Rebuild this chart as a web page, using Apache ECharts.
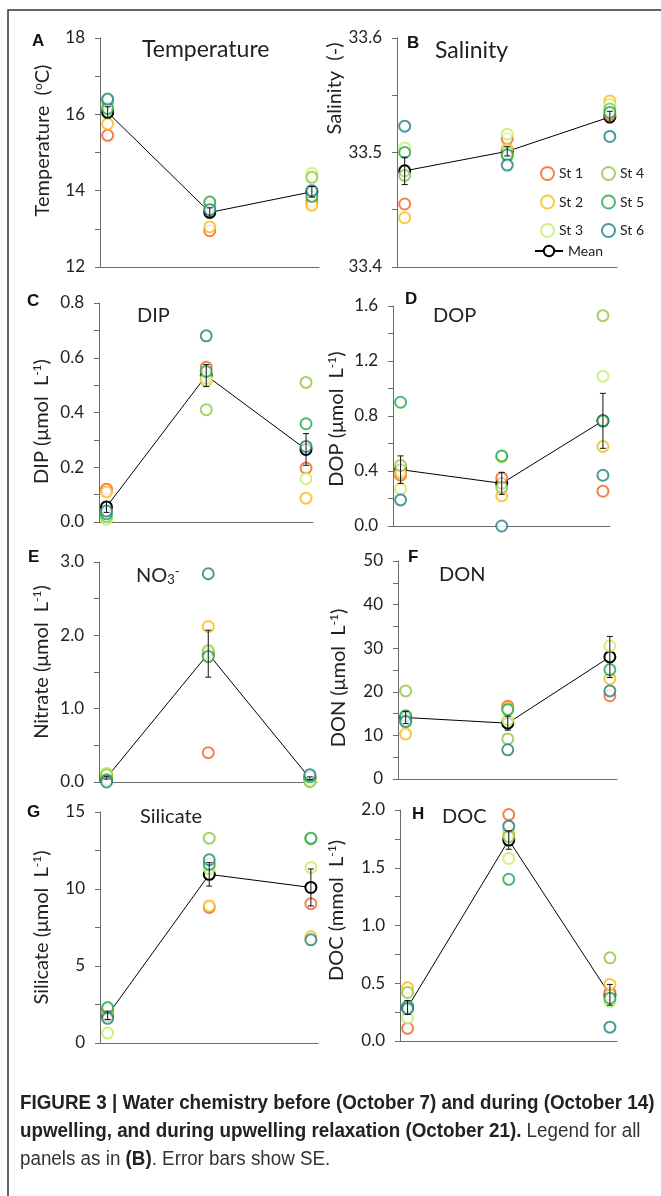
<!DOCTYPE html>
<html>
<head>
<meta charset="utf-8">
<script src="https://cdn.jsdelivr.net/npm/echarts@6/dist/echarts.min.js"></script>
<style>
  html, body { margin: 0; padding: 0; background: #fff; }
  #chart { width: 661px; height: 1196px; }
</style>
</head>
<body>
<div id="chart"></div>
<script>
// ---------------- DATA ----------------
const dates = ['7 Oct', '14 Oct', '21 Oct'];
const stations = ['St 1', 'St 2', 'St 3', 'St 4', 'St 5', 'St 6'];

// rows = stations St 1..St 6, columns = dates
const temperature = [
  [15.45, 12.95, 13.72],
  [15.75, 13.05, 13.62],
  [16.28, 13.55, 14.45],
  [16.35, 13.60, 14.35],
  [16.15, 13.70, 13.85],
  [16.40, 13.50, 14.00]
];
const temperatureMean = [16.05, 13.43, 13.97];
const temperatureSE = [0.15, 0.12, 0.14];

const salinity = [
  [33.455, 33.512, 33.533],
  [33.443, 33.503, 33.545],
  [33.504, 33.516, 33.542],
  [33.480, 33.497, 33.538],
  [33.500, 33.498, 33.535],
  [33.523, 33.489, 33.514]
];
const salinityMean = [33.484, 33.501, 33.531];
const salinitySE = [0.012, 0.004, 0.005];

const dip = [
  [0.12, 0.565, 0.197],
  [0.11, 0.515, 0.087],
  [0.01, 0.525, 0.158],
  [0.02, 0.41, 0.51],
  [0.03, 0.55, 0.359],
  [0.04, 0.68, 0.276]
];
const dipMean = [0.055, 0.535, 0.265];
const dipSE = [0.02, 0.04, 0.058];

const dop = [
  [0.37, 0.35, 0.253],
  [0.39, 0.22, 0.579],
  [0.27, 0.50, 1.09],
  [0.44, 0.28, 1.53],
  [0.90, 0.51, 0.765],
  [0.19, 0.00, 0.369]
];
const dopMean = [0.41, 0.31, 0.765];
const dopSE = [0.10, 0.08, 0.20];

const nitrate = [
  [0.05, 0.40, 0.06],
  [0.08, 2.12, 0.05],
  [0.12, 1.75, 0.00],
  [0.10, 1.79, 0.01],
  [0.03, 1.71, 0.07],
  [0.00, 2.84, 0.10]
];
const nitrateMean = [0.06, 1.75, 0.05];
const nitrateSE = [0.02, 0.32, 0.02];

const don = [
  [13.5, 16.7, 19.1],
  [10.3, 16.2, 23.0],
  [13.0, 13.5, 30.5],
  [20.2, 9.2, 50.2],
  [14.5, 15.9, 25.1],
  [13.2, 6.7, 20.2]
];
const donMean = [14.1, 12.8, 28.0];
const donSE = [1.4, 1.6, 4.7];

const silicate = [
  [2.1, 8.8, 9.05],
  [1.9, 8.9, 6.9],
  [0.65, 11.3, 11.4],
  [2.2, 13.3, 13.25],
  [2.3, 11.6, 13.3],
  [1.6, 11.9, 6.7]
];
const silicateMean = [1.8, 10.95, 10.1];
const silicateSE = [0.27, 0.76, 1.2];

const doc = [
  [0.11, 1.96, 0.42],
  [0.46, 1.80, 0.49],
  [0.20, 1.58, 0.34],
  [0.42, 1.77, 0.72],
  [0.30, 1.40, 0.37],
  [0.28, 1.86, 0.12]
];
const docMean = [0.29, 1.74, 0.40];
const docSE = [0.06, 0.08, 0.09];

// ---------------- STYLE / LAYOUT ----------------
const stationColors = ['#F4621F', '#F6BA12', '#C6EE5C', '#8CC63F', '#1FA84B', '#1E7F80'];
const FONT = 'Lato, "Noto Sans", sans-serif';
const CAPFONT = '"Liberation Sans", Arial, sans-serif';

const sup = { fontSize: 12, verticalAlign: 'top', fontFamily: FONT, color: '#222', padding: [0, 0, 9, 0] };
const nm = { fontSize: 20, fontFamily: FONT, color: '#222' };

const panels = [
  { letter: 'A', title: 'Temperature', titleSize: 23, rows: temperature, mean: temperatureMean, se: temperatureSE,
    min: 12, max: 18, interval: 2, dec: 0,
    grid: { left: 100, top: 38, width: 219, height: 229 },
    name: '{n|Temperature  (}{s|o}{n|C)}', nameGap: 47, namePad: [0, 0, 0, 24],
    titlePos: { left: 142, top: 38 }, letterPos: [32, 33] },
  { letter: 'B', title: 'Salinity', titleSize: 23, rows: salinity, mean: salinityMean, se: salinitySE,
    min: 33.4, max: 33.6, interval: 0.1, dec: 1,
    grid: { left: 397, top: 38, width: 220, height: 229 },
    name: '{n|Salinity  (-)}', nameGap: 50, namePad: [0, 0, 0, 128],
    titlePos: { left: 435, top: 39 }, letterPos: [407, 35] },
  { letter: 'C', title: 'DIP', titleSize: 20, rows: dip, mean: dipMean, se: dipSE,
    min: 0, max: 0.8, interval: 0.2, dec: 1,
    grid: { left: 99, top: 303, width: 214, height: 219 },
    name: '{n|DIP (μmol  L}{s|-1}{n|)}', nameGap: 47, namePad: [0, 18, 0, 0],
    titlePos: { left: 137, top: 306 }, letterPos: [27, 293] },
  { letter: 'D', title: 'DOP', titleSize: 20, rows: dop, mean: dopMean, se: dopSE,
    min: 0, max: 1.6, interval: 0.4, dec: 1,
    grid: { left: 393, top: 306, width: 217, height: 220 },
    name: '{n|DOP (μmol  L}{s|-1}{n|)}', nameGap: 46, namePad: [0, 6, 0, 0],
    titlePos: { left: 433, top: 306 }, letterPos: [405, 291] },
  { letter: 'E', title: 'NO3', titleSize: 20, rows: nitrate, mean: nitrateMean, se: nitrateSE,
    min: 0, max: 3, interval: 1, dec: 1,
    grid: { left: 99, top: 562, width: 218, height: 220 },
    name: '{n|Nitrate (μmol  L}{s|-1}{n|)}', nameGap: 47, namePad: [0, 0, 0, 20],
    titlePos: { left: 136, top: 565 }, letterPos: [28, 549] },
  { letter: 'F', title: 'DON', titleSize: 20, rows: don, mean: donMean, se: donSE,
    min: 0, max: 50, interval: 10, dec: 0,
    grid: { left: 398, top: 561, width: 219, height: 218 },
    name: '{n|DON (μmol  L}{s|-1}{n|)}', nameGap: 49, namePad: [0, 16, 0, 0],
    titlePos: { left: 439, top: 565 }, letterPos: [408, 549] },
  { letter: 'G', title: 'Silicate', titleSize: 20, rows: silicate, mean: silicateMean, se: silicateSE,
    min: 0, max: 15, interval: 5, dec: 0,
    grid: { left: 100, top: 812, width: 218, height: 231 },
    name: '{n|Silicate (μmol  L}{s|-1}{n|)}', nameGap: 48, namePad: [0, 0, 0, 0],
    titlePos: { left: 140, top: 807 }, letterPos: [27, 804],
    labelAxis: { min: -0.2, max: 2.095 } },
  { letter: 'H', title: 'DOC', titleSize: 20, rows: doc, mean: docMean, se: docSE,
    min: 0, max: 2, interval: 0.5, dec: 1,
    grid: { left: 400, top: 810, width: 217, height: 231 },
    name: '{n|DOC (mmol  L}{s|-1}{n|)}', nameGap: 53, namePad: [0, 0, 0, 30],
    titlePos: { left: 442, top: 807 }, letterPos: [412, 806],
    labelAxis: { min: -0.124, max: 2.113 } }
];

// ---------------- BUILD OPTION ----------------
const grids = [], xAxes = [], yAxes = [], series = [], titles = [], graphics = [];
const AXIS_COLOR = '#6a6a6a';

panels.forEach((p, gi) => {
  grids.push(Object.assign({ containLabel: false }, p.grid));
  const xi = xAxes.length;
  xAxes.push({
    type: 'value', gridIndex: gi, min: -0.075, max: 2.07,
    axisLine: { show: true, onZero: false, lineStyle: { color: AXIS_COLOR, width: 1 } },
    axisTick: { show: false }, axisLabel: { show: false }, splitLine: { show: false }
  });
  if (p.labelAxis) {
    xAxes.push({
      type: 'value', gridIndex: gi, position: 'bottom', min: p.labelAxis.min, max: p.labelAxis.max,
      interval: 1,
      axisLine: { show: false }, axisTick: { show: false }, splitLine: { show: false },
      axisLabel: {
        show: true, margin: 12, fontFamily: FONT, fontSize: 18, color: '#222',
        showMinLabel: false, showMaxLabel: false,
        formatter: v => { const i = Math.round(v); return (Math.abs(v - i) < 1e-6 && dates[i]) ? dates[i] : ''; }
      }
    });
  }
  yAxes.push({
    type: 'value', gridIndex: gi, min: p.min, max: p.max, interval: p.interval,
    name: p.name, nameLocation: 'middle', nameGap: p.nameGap,
    nameTextStyle: { rich: { n: nm, s: sup }, padding: p.namePad },
    axisLine: { show: true, onZero: false, lineStyle: { color: AXIS_COLOR, width: 1 } },
    axisTick: { show: true, inside: false, length: 5, lineStyle: { color: AXIS_COLOR } },
    minorTick: { show: true, splitNumber: 2, length: 5, lineStyle: { color: AXIS_COLOR } },
    splitLine: { show: false }, minorSplitLine: { show: false },
    axisLabel: { margin: 15, fontFamily: FONT, fontSize: 17, color: '#222',
      formatter: v => v.toFixed(p.dec) }
  });

  // mean line (bottom)
  series.push({
    name: 'Mean', type: 'line', xAxisIndex: xi, yAxisIndex: gi,
    data: p.mean.map((m, i) => [i, m]),
    symbol: 'emptyCircle', symbolSize: 11,
    lineStyle: { color: '#000', width: 1 },
    itemStyle: { color: '#000', borderColor: '#000', borderWidth: 2.8 },
    z: 2, silent: true
  });
  // station scatters
  p.rows.forEach((row, si) => {
    series.push({
      name: stations[si], type: 'scatter', xAxisIndex: xi, yAxisIndex: gi,
      data: row.map((v, i) => [i, v]),
      symbol: 'emptyCircle', symbolSize: 11,
      itemStyle: { color: stationColors[si], borderColor: stationColors[si], borderWidth: 3 },
      z: 3 + si, silent: true
    });
  });
  // error bars (top)
  series.push({
    type: 'custom', xAxisIndex: xi, yAxisIndex: gi, z: 10, silent: true,
    data: p.mean.map((m, i) => [i, m - p.se[i], m + p.se[i]]),
    renderItem: (params, api) => {
      const x = api.value(0);
      const lo = api.coord([x, api.value(1)]);
      const hi = api.coord([x, api.value(2)]);
      const hw = 3;
      const st = { stroke: '#111', lineWidth: 1 };
      return { type: 'group', children: [
        { type: 'line', shape: { x1: lo[0], y1: lo[1], x2: hi[0], y2: hi[1] }, style: st },
        { type: 'line', shape: { x1: lo[0] - hw, y1: lo[1], x2: lo[0] + hw, y2: lo[1] }, style: st },
        { type: 'line', shape: { x1: hi[0] - hw, y1: hi[1], x2: hi[0] + hw, y2: hi[1] }, style: st }
      ] };
    }
  });

  // panel title
  let titleText = p.title, rich = {};
  if (p.title === 'NO3') {
    titleText = '{t|NO}{sub|3}{sp|-}';
    rich = {
      t: { fontSize: 20, fontFamily: FONT, color: '#222' },
      sub: { fontSize: 13, fontFamily: FONT, color: '#222', verticalAlign: 'bottom', padding: [8, 0, 0, 0] },
      sp: { fontSize: 13, fontFamily: FONT, color: '#222', verticalAlign: 'top', padding: [0, 0, 8, 0] }
    };
  }
  titles.push({
    text: titleText, left: p.titlePos.left, top: p.titlePos.top, padding: 0,
    textStyle: { fontFamily: FONT, fontSize: p.titleSize, fontWeight: 'normal', color: '#222', rich: rich }
  });
  // panel letter
  graphics.push({
    type: 'text', left: p.letterPos[0], top: p.letterPos[1],
    style: { text: p.letter, font: 'bold 17px "Liberation Sans", Arial, sans-serif', fill: '#111' }
  });
});

// outer frame
graphics.push({
  type: 'rect', shape: { x: 8, y: 10, width: 700, height: 1300 },
  style: { fill: 'none', stroke: '#333', lineWidth: 1.5 }, z: -1
});

// caption (condensed look via horizontal scale)
const capB = { fontFamily: CAPFONT, fontWeight: 'bold', fontSize: 20, fill: '#222' };
const capN = { fontFamily: CAPFONT, fontWeight: 'normal', fontSize: 20, fill: '#333' };
const captionLines = [
  '{b|FIGURE 3 | Water chemistry before (October 7) and during (October 14)}',
  '{b|upwelling, and during upwelling relaxation (October 21).}{n| Legend for all}',
  '{n|panels as in }{b|(B)}{n|. Error bars show SE.}'
];
captionLines.forEach((t, i) => {
  graphics.push({
    type: 'text', x: 20, y: 1093 + i * 28, scaleX: 0.94, scaleY: 1, originX: 0, originY: 0,
    style: { text: t, rich: { b: capB, n: capN } }
  });
});

const legendText = { fontFamily: FONT, fontSize: 14, color: '#222' };
const option = {
  animation: false,
  backgroundColor: '#fff',
  title: titles,
  grid: grids,
  xAxis: xAxes,
  yAxis: yAxes,
  series: series,
  graphic: graphics,
  legend: [
    { data: ['St 1', 'St 2', 'St 3'], orient: 'vertical', left: 535, top: 161,
      itemWidth: 13, itemHeight: 13, itemGap: 13.5, textStyle: legendText, selectedMode: false },
    { data: ['St 4', 'St 5', 'St 6'], orient: 'vertical', left: 596, top: 161,
      itemWidth: 13, itemHeight: 13, itemGap: 13.5, textStyle: legendText, selectedMode: false },
    { data: ['Mean'], orient: 'vertical', left: 529, top: 239,
      itemWidth: 28, itemHeight: 13, textStyle: legendText, selectedMode: false }
  ]
};

const chart = echarts.init(document.getElementById('chart'), null, { renderer: 'canvas' });
chart.setOption(option);
</script>
</body>
</html>
